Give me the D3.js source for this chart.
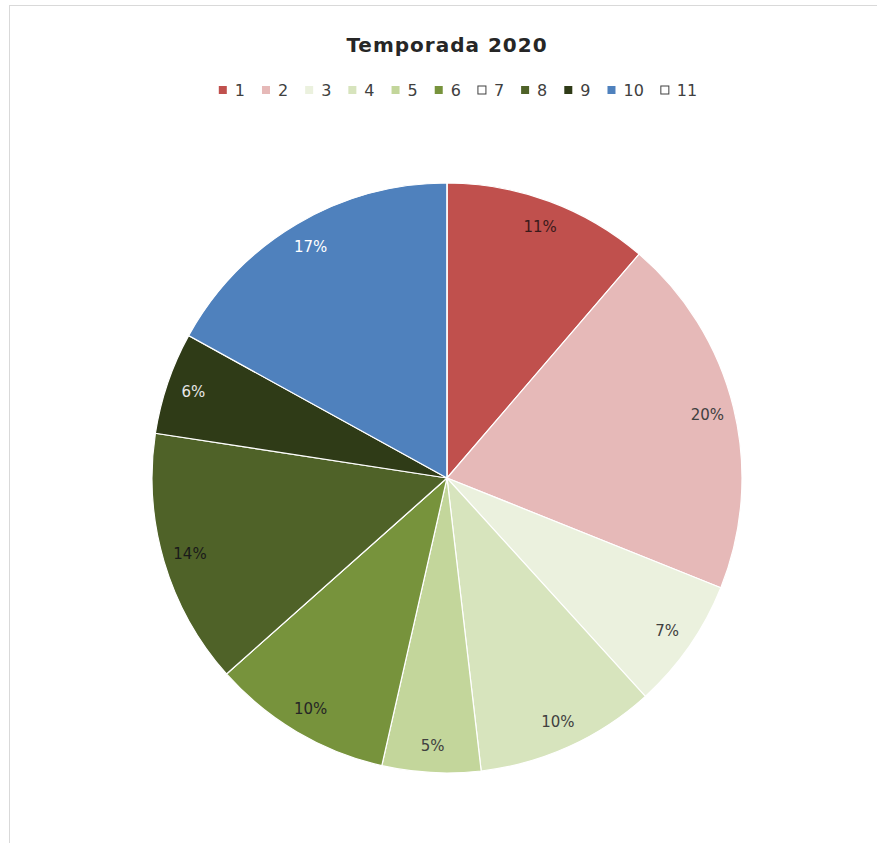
<!DOCTYPE html>
<html>
<head>
<meta charset="utf-8">
<script src="https://cdn.jsdelivr.net/npm/d3@7"></script>
<style>
  body { margin: 0; background: #fff; }
  text { font-family: "DejaVu Sans", Lato, sans-serif; }
</style>
</head>
<body>
<div class="chart"></div>
<script>
// data (share of season, %)
var categories = ["1", "2", "3", "4", "5", "6", "7", "8", "9", "10", "11"];
var values = [11.3, 19.8, 7.2, 9.9, 5.4, 9.9, 0, 14.0, 5.6, 17.0, 0];
var colors = ["#c0504d", "#e6b9b8", "#ebf1de", "#d7e4bd", "#c3d69b", "#77933c",
              "#ffffff", "#4f6228", "#2f3b17", "#4f81bd", "#ffffff"];
var labelColors = ["#3a1a1a", "#404040", "#404040", "#404040", "#404040", "#262626",
                   "#404040", "#1a1a1a", "#e8e8e8", "#ffffff", "#404040"];
var title = "Temporada 2020";

const width = 877, height = 843;
const cx = 447, cy = 478, radius = 295;

const svg = d3.select(".chart").append("svg")
    .attr("width", width)
    .attr("height", height);

// chart frame
svg.append("rect")
    .attr("x", 9.5).attr("y", 5.5)
    .attr("width", width).attr("height", height)
    .attr("fill", "#fff")
    .attr("stroke", "#d9d9d9");

svg.append("text")
    .attr("x", 447).attr("y", 52)
    .attr("text-anchor", "middle")
    .attr("font-size", 20)
    .attr("font-weight", "bold")
    .attr("letter-spacing", 1)
    .attr("fill", "#262626")
    .text(title);

var data = categories.map(function(c, i){ return {cat: c, value: values[i], i: i}; });
var total = d3.sum(values);

var colorScale = d3.scaleOrdinal().domain(categories).range(colors);

var pie = d3.pie().sort(null).value(d => d.value);
var arc = d3.arc().innerRadius(0).outerRadius(radius);
var labelArc = d3.arc().innerRadius(268).outerRadius(268);

var g = svg.append("g").attr("transform", "translate(" + cx + "," + cy + ")");

var arcs = pie(data);

g.selectAll("path")
  .data(arcs)
  .join("path")
    .attr("d", arc)
    .attr("fill", d => colorScale(d.data.cat))
    .attr("stroke", "#fff")
    .attr("stroke-width", 1.2);

g.selectAll("text")
  .data(arcs.filter(d => d.data.value > 0))
  .join("text")
    .attr("transform", d => "translate(" + labelArc.centroid(d) + ")")
    .attr("text-anchor", "middle")
    .attr("dy", "0.35em")
    .attr("font-size", 15)
    .attr("fill", d => labelColors[d.data.i])
    .text(d => d3.format(".0%")(d.data.value / total));

// legend
var legend = svg.append("g").attr("transform", "translate(0,90)");
var items = legend.selectAll("g")
  .data(data)
  .join("g");

items.append("rect")
    .attr("x", 0).attr("y", -4)
    .attr("width", 8).attr("height", 8)
    .attr("fill", d => colorScale(d.cat))
    .attr("stroke", d => d.value > 0 ? "none" : "#404040")
    .attr("stroke-width", 1);

items.append("text")
    .attr("x", 16).attr("dy", "0.35em")
    .attr("font-size", 16)
    .attr("fill", "#404040")
    .text(d => d.cat);

var x = 0, pos = [];
items.each(function(d){
  var w = 16 + this.querySelector("text").getComputedTextLength();
  pos.push(x);
  x += w + 17;
});
var legendWidth = x - 17;
var start = 458 - legendWidth / 2;
items.attr("transform", (d, i) => "translate(" + (start + pos[i]) + ",0)");
</script>
</body>
</html>
